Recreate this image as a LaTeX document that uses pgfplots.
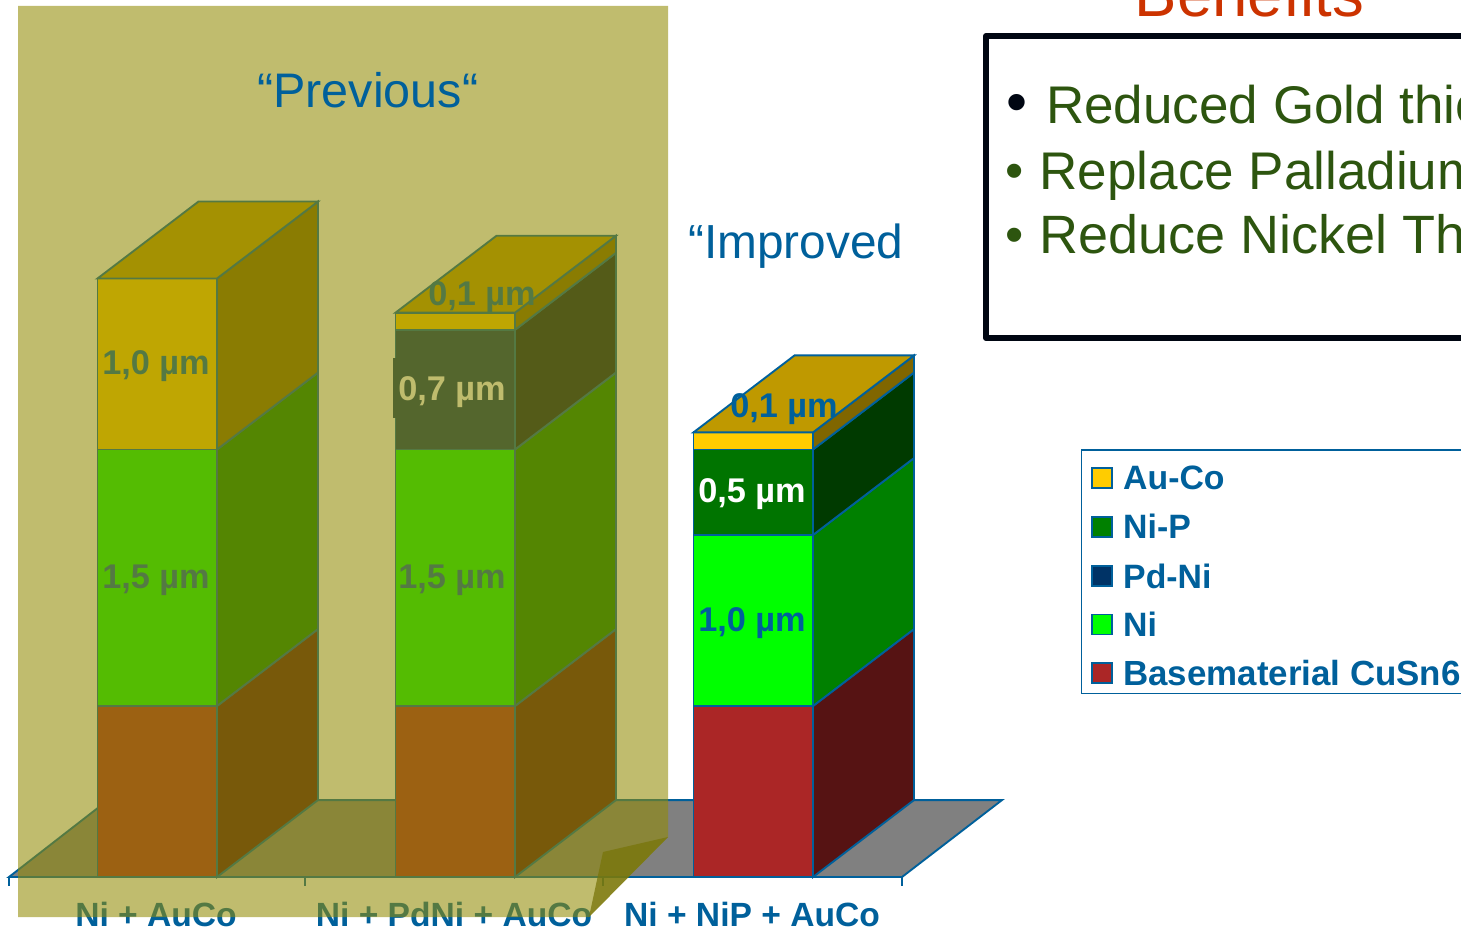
\documentclass[border=0pt]{standalone}
\usepackage{fontspec}
\setmainfont{Liberation Sans}
\usepackage{pgfplots}
\pgfplotsset{compat=1.18}

\definecolor{edge}{RGB}{0,96,155}
\definecolor{txtblue}{RGB}{0,96,155}
\definecolor{auco}{RGB}{255,204,0}
\definecolor{nip}{RGB}{0,116,0}
\definecolor{nipkey}{RGB}{0,128,0}
\definecolor{pdni}{RGB}{0,51,102}
\definecolor{ni}{RGB}{0,255,0}
\definecolor{base}{RGB}{171,38,38}
\definecolor{floorgrey}{RGB}{128,128,128}
\definecolor{veil}{RGB}{146,140,5}
\definecolor{fold}{RGB}{120,117,10}
\definecolor{bullettxt}{RGB}{45,85,15}
\definecolor{headline}{RGB}{204,51,0}
\definecolor{framec}{RGB}{0,6,18}

% x runs in picture units, y in micrometres above the floor line
\newcommand{\px}[2]{(axis cs:#1,{(877-(#2))/171})}
\newcommand{\fs}[1]{\fontsize{#1}{#1}\selectfont}

% one layer of a 3D column: left x, lower and upper level, colour
\newcommand{\Layer}[4]{%
  \addplot[draw=edge,line width=1.9pt,fill=#4] coordinates {(#1,#2) ({#1+119.5},#2) ({#1+119.5},#3) (#1,#3)} -- cycle;
  \addplot[draw=edge,line width=1.9pt,fill=#4!50!black] coordinates {({#1+119.5},#2) ({#1+220.5},{#2+0.45}) ({#1+220.5},{#3+0.45}) ({#1+119.5},#3)} -- cycle;
}
% lid of a column
\newcommand{\Lid}[3]{%
  \addplot[draw=edge,line width=1.9pt,fill=#3!75!black] coordinates {(#1,#2) ({#1+119.5},#2) ({#1+220.5},{#2+0.45}) ({#1+101},{#2+0.45})} -- cycle;
}
\newcommand{\BarText}[4]{\node[anchor=base,inner sep=0pt,text=#4,font=\fs{34.3}\bfseries] at \px{#1}{#2} {#3};}
\newcommand{\AxisText}[2]{\node[anchor=base,inner sep=0pt,text=txtblue,font=\fs{33.6}\bfseries] at \px{#1}{926} {#2};}
\newcommand{\Key}[4][33.8]{%
  \fill[#4,draw=edge,line width=1.4pt] \px{1092}{#2-10} rectangle \px{1112}{#2+10};
  \node[anchor=base west,inner sep=0pt,text=txtblue,font=\fs{#1}\bfseries] at \px{1123}{#2+12} {#3};
}

\begin{document}
\begin{tikzpicture}
\path[use as bounding box] (0,0) rectangle (1461pt,930pt);
\clip (0,0) rectangle (1461pt,930pt);
\begin{axis}[
  at={(0pt,0pt)},anchor=south west,
  scale only axis,width=1461pt,height=930pt,
  xmin=0,xmax=1461,ymin=-0.30994,ymax=5.12865,
  hide axis,clip=false]

% floor and category ticks
\addplot[draw=edge,line width=1.9pt,fill=floorgrey] coordinates {(9,0) (902,0) (1002,0.45) (108,0.45)} -- cycle;
\addplot[draw=edge,line width=1.6pt] coordinates {(9,0) (9,-0.05)};
\addplot[draw=edge,line width=1.6pt] coordinates {(305,0) (305,-0.05)};
\addplot[draw=edge,line width=1.6pt] coordinates {(603,0) (603,-0.05)};
\addplot[draw=edge,line width=1.6pt] coordinates {(902,0) (902,-0.05)};

% Ni + AuCo
\Layer{97.5}{0}{1.0}{base}
\Layer{97.5}{1.0}{2.5}{ni}
\Layer{97.5}{2.5}{3.5}{auco}
\Lid{97.5}{3.5}{auco}
% Ni + PdNi + AuCo
\Layer{395.5}{0}{1.0}{base}
\Layer{395.5}{1.0}{2.5}{ni}
\Layer{395.5}{2.5}{3.2}{pdni}
\Layer{395.5}{3.2}{3.3}{auco}
\Lid{395.5}{3.3}{auco}
% Ni + NiP + AuCo
\Layer{693.5}{0}{1.0}{base}
\Layer{693.5}{1.0}{2.0}{ni}
\Layer{693.5}{2.0}{2.5}{nip}
\Layer{693.5}{2.5}{2.6}{auco}
\Lid{693.5}{2.6}{auco}

% thickness labels
\BarText{156}{375}{1,0 µm}{txtblue}
\BarText{156}{588}{1,5 µm}{txtblue}
\fill[pdni] \px{393}{358} rectangle \px{510}{418};
\BarText{452}{401}{0,7 µm}{white}
\BarText{452}{588}{1,5 µm}{txtblue}
\BarText{482}{306}{0,1 µm}{txtblue}
\BarText{784}{418}{0,1 µm}{txtblue}
\BarText{752}{503}{0,5 µm}{white}
\BarText{752}{631}{1,0 µm}{txtblue}

% category names
\AxisText{156}{Ni + AuCo}
\AxisText{454}{Ni + PdNi + AuCo}
\AxisText{752}{Ni + NiP + AuCo}

% translucent sheet over the earlier variants, with its turned corner
\fill[veil,opacity=0.58] \px{18}{6} -- \px{668}{6} -- \px{668}{837} -- \px{589}{917} -- \px{18}{917} -- cycle;
\fill[fold,opacity=0.75] \px{668}{837} -- \px{603}{852} -- \px{589}{917} -- cycle;

\node[anchor=base west,inner sep=0pt,text=txtblue,font=\fs{48.5}] at \px{257}{108} {“Previous“};
\node[anchor=base west,inner sep=0pt,text=txtblue,font=\fs{47.8}] at \px{688}{259} {“Improved};

% benefits panel
\node[anchor=base,inner sep=0pt,text=headline,font=\fs{63.5}] at \px{1249.5}{17} {Benefits};
\draw[framec,line width=6pt,line join=round] \px{1600}{36} -- \px{986}{36} -- \px{986}{338} -- \px{1600}{338};
\node[anchor=base west,inner sep=0pt,text=framec,font=\fs{60}] at \px{1006}{123} {•};
\node[anchor=base west,inner sep=0pt,text=bullettxt,font=\fs{53}] at \px{1046}{123.5} {Reduced Gold thickness};
\node[anchor=base west,inner sep=0pt,text=bullettxt,font=\fs{52}] at \px{1005}{189} {•};
\node[anchor=base west,inner sep=0pt,text=bullettxt,font=\fs{53}] at \px{1039.5}{189.5} {Replace Palladium};
\node[anchor=base west,inner sep=0pt,text=bullettxt,font=\fs{52}] at \px{1005}{253} {•};
\node[anchor=base west,inner sep=0pt,text=bullettxt,font=\fs{54}] at \px{1039.5}{253.5} {Reduce Nickel Thickness};

% legend
\draw[edge,line width=1.7pt] \px{1600}{450} -- \px{1081.5}{450} -- \px{1081.5}{693.5} -- \px{1600}{693.5};
\Key{478}{Au-Co}{auco}
\Key{527}{Ni-P}{nipkey}
\Key{576}{Pd-Ni}{pdni}
\Key{624.5}{Ni}{ni}
\Key[34.9]{673}{Basematerial CuSn6}{base}
\end{axis}
\end{tikzpicture}
\end{document}
